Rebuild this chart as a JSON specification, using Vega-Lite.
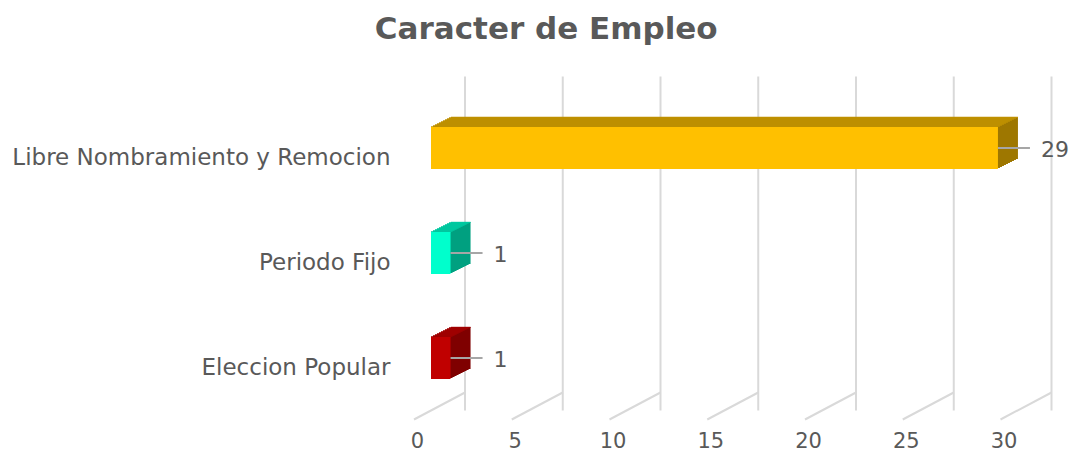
{
  "$schema": "https://vega.github.io/schema/vega-lite/v6.json",
  "autosize": {"type": "none"},
  "width": 586.5,
  "height": 315,
  "padding": {"left": 431, "top": 95.5, "right": 55.5, "bottom": 43.5},
  "background": "#ffffff",
  "title": {"text": "Caracter de Empleo", "font": "DejaVu Sans", "fontSize": 31, "fontWeight": "bold", "color": "#595959", "anchor": "middle", "frame": "group", "dx": -178, "offset": 30},
  "datasets": {
    "bars": [
      {"cat": "Libre Nombramiento y Remocion", "v": 29},
      {"cat": "Periodo Fijo", "v": 1},
      {"cat": "Eleccion Popular", "v": 1}
    ],
    "ticks": [{"t": 0}, {"t": 5}, {"t": 10}, {"t": 15}, {"t": 20}, {"t": 25}, {"t": 30}]
  },
  "data": {"name": "bars"},
  "config": {
    "view": {"stroke": null},
    "axis": {"grid": false, "domain": false, "ticks": false, "labelColor": "#595959", "labelFont": "DejaVu Sans"},
    "axisX": {"labelOffset": -14, "labelPadding": 20, "labelFontSize": 21, "labelFlush": false, "labelOverlap": false},
    "axisY": {"labelPadding": 41, "labelFontSize": 23, "labelLimit": 600, "labelOffset": 10}
  },
  "layer": [
    {"data": {"name": "ticks"}, "mark": {"type": "rule", "color": "#D9D9D9", "strokeWidth": 2, "xOffset": 34, "yOffset": -19, "y2Offset": -18},
     "encoding": {"x": {"field": "t", "type": "quantitative", "title": null, "scale": {"domain": [0, 30], "nice": false, "zero": true},
       "axis": {"values": [0, 5, 10, 15, 20, 25, 30], "title": null}}}},
    {"data": {"name": "ticks"}, "mark": {"type": "rule", "color": "#D9D9D9", "strokeWidth": 2, "xOffset": -17, "x2Offset": 34, "yOffset": 9, "y2Offset": -18},
     "encoding": {"x": {"field": "t", "type": "quantitative", "title": null}, "x2": {"field": "t"}, "y": {"value": "height"}, "y2": {"value": "height"}}},
    {"mark": {"type": "bar", "xOffset": 2, "x2Offset": 2, "yOffset": -1, "y2Offset": -1},
     "encoding": {"y": {"field": "cat", "type": "nominal", "sort": null, "title": null, "scale": {"type": "band", "paddingInner": 0.6, "paddingOuter": 0.3}, "axis": {"title": null}},
      "x": {"field": "v", "type": "quantitative", "title": null},
      "color": {"condition": [{"test": "datum.cat === 'Periodo Fijo'", "value": "#00A080"}, {"test": "datum.cat === 'Eleccion Popular'", "value": "#7F0000"}], "value": "#9E7700"}}},
    {"mark": {"type": "bar", "xOffset": 4, "x2Offset": 4, "yOffset": -2, "y2Offset": -2},
     "encoding": {"y": {"field": "cat", "type": "nominal", "sort": null, "title": null}, "x": {"field": "v", "type": "quantitative", "title": null},
      "color": {"condition": [{"test": "datum.cat === 'Periodo Fijo'", "value": "#00A080"}, {"test": "datum.cat === 'Eleccion Popular'", "value": "#7F0000"}], "value": "#9E7700"}}},
    {"mark": {"type": "bar", "xOffset": 6, "x2Offset": 6, "yOffset": -3, "y2Offset": -3},
     "encoding": {"y": {"field": "cat", "type": "nominal", "sort": null, "title": null}, "x": {"field": "v", "type": "quantitative", "title": null},
      "color": {"condition": [{"test": "datum.cat === 'Periodo Fijo'", "value": "#00A080"}, {"test": "datum.cat === 'Eleccion Popular'", "value": "#7F0000"}], "value": "#9E7700"}}},
    {"mark": {"type": "bar", "xOffset": 8, "x2Offset": 8, "yOffset": -4, "y2Offset": -4},
     "encoding": {"y": {"field": "cat", "type": "nominal", "sort": null, "title": null}, "x": {"field": "v", "type": "quantitative", "title": null},
      "color": {"condition": [{"test": "datum.cat === 'Periodo Fijo'", "value": "#00A080"}, {"test": "datum.cat === 'Eleccion Popular'", "value": "#7F0000"}], "value": "#9E7700"}}},
    {"mark": {"type": "bar", "xOffset": 10, "x2Offset": 10, "yOffset": -5, "y2Offset": -5},
     "encoding": {"y": {"field": "cat", "type": "nominal", "sort": null, "title": null}, "x": {"field": "v", "type": "quantitative", "title": null},
      "color": {"condition": [{"test": "datum.cat === 'Periodo Fijo'", "value": "#00A080"}, {"test": "datum.cat === 'Eleccion Popular'", "value": "#7F0000"}], "value": "#9E7700"}}},
    {"mark": {"type": "bar", "xOffset": 12, "x2Offset": 12, "yOffset": -6, "y2Offset": -6},
     "encoding": {"y": {"field": "cat", "type": "nominal", "sort": null, "title": null}, "x": {"field": "v", "type": "quantitative", "title": null},
      "color": {"condition": [{"test": "datum.cat === 'Periodo Fijo'", "value": "#00A080"}, {"test": "datum.cat === 'Eleccion Popular'", "value": "#7F0000"}], "value": "#9E7700"}}},
    {"mark": {"type": "bar", "xOffset": 14, "x2Offset": 14, "yOffset": -7, "y2Offset": -7},
     "encoding": {"y": {"field": "cat", "type": "nominal", "sort": null, "title": null}, "x": {"field": "v", "type": "quantitative", "title": null},
      "color": {"condition": [{"test": "datum.cat === 'Periodo Fijo'", "value": "#00A080"}, {"test": "datum.cat === 'Eleccion Popular'", "value": "#7F0000"}], "value": "#9E7700"}}},
    {"mark": {"type": "bar", "xOffset": 16, "x2Offset": 16, "yOffset": -8, "y2Offset": -8},
     "encoding": {"y": {"field": "cat", "type": "nominal", "sort": null, "title": null}, "x": {"field": "v", "type": "quantitative", "title": null},
      "color": {"condition": [{"test": "datum.cat === 'Periodo Fijo'", "value": "#00A080"}, {"test": "datum.cat === 'Eleccion Popular'", "value": "#7F0000"}], "value": "#9E7700"}}},
    {"mark": {"type": "bar", "xOffset": 18, "x2Offset": 18, "yOffset": -9, "y2Offset": -9},
     "encoding": {"y": {"field": "cat", "type": "nominal", "sort": null, "title": null}, "x": {"field": "v", "type": "quantitative", "title": null},
      "color": {"condition": [{"test": "datum.cat === 'Periodo Fijo'", "value": "#00A080"}, {"test": "datum.cat === 'Eleccion Popular'", "value": "#7F0000"}], "value": "#9E7700"}}},
    {"mark": {"type": "bar", "xOffset": 20, "x2Offset": 20, "yOffset": -10, "y2Offset": -10},
     "encoding": {"y": {"field": "cat", "type": "nominal", "sort": null, "title": null}, "x": {"field": "v", "type": "quantitative", "title": null},
      "color": {"condition": [{"test": "datum.cat === 'Periodo Fijo'", "value": "#00A080"}, {"test": "datum.cat === 'Eleccion Popular'", "value": "#7F0000"}], "value": "#9E7700"}}},
    {"mark": {"type": "rule", "strokeWidth": 1.6, "xOffset": 0, "x2Offset": 0, "yOffset": 0},
     "encoding": {"y": {"field": "cat", "type": "nominal", "sort": null, "bandPosition": 0, "title": null}, "x": {"field": "v", "type": "quantitative", "title": null}, "x2": {"datum": 0},
      "color": {"condition": [{"test": "datum.cat === 'Periodo Fijo'", "value": "#00C9A0"}, {"test": "datum.cat === 'Eleccion Popular'", "value": "#A00000"}], "value": "#BF9000"}}},
    {"mark": {"type": "rule", "strokeWidth": 1.6, "xOffset": 2, "x2Offset": 2, "yOffset": -1},
     "encoding": {"y": {"field": "cat", "type": "nominal", "sort": null, "bandPosition": 0, "title": null}, "x": {"field": "v", "type": "quantitative", "title": null}, "x2": {"datum": 0},
      "color": {"condition": [{"test": "datum.cat === 'Periodo Fijo'", "value": "#00C9A0"}, {"test": "datum.cat === 'Eleccion Popular'", "value": "#A00000"}], "value": "#BF9000"}}},
    {"mark": {"type": "rule", "strokeWidth": 1.6, "xOffset": 4, "x2Offset": 4, "yOffset": -2},
     "encoding": {"y": {"field": "cat", "type": "nominal", "sort": null, "bandPosition": 0, "title": null}, "x": {"field": "v", "type": "quantitative", "title": null}, "x2": {"datum": 0},
      "color": {"condition": [{"test": "datum.cat === 'Periodo Fijo'", "value": "#00C9A0"}, {"test": "datum.cat === 'Eleccion Popular'", "value": "#A00000"}], "value": "#BF9000"}}},
    {"mark": {"type": "rule", "strokeWidth": 1.6, "xOffset": 6, "x2Offset": 6, "yOffset": -3},
     "encoding": {"y": {"field": "cat", "type": "nominal", "sort": null, "bandPosition": 0, "title": null}, "x": {"field": "v", "type": "quantitative", "title": null}, "x2": {"datum": 0},
      "color": {"condition": [{"test": "datum.cat === 'Periodo Fijo'", "value": "#00C9A0"}, {"test": "datum.cat === 'Eleccion Popular'", "value": "#A00000"}], "value": "#BF9000"}}},
    {"mark": {"type": "rule", "strokeWidth": 1.6, "xOffset": 8, "x2Offset": 8, "yOffset": -4},
     "encoding": {"y": {"field": "cat", "type": "nominal", "sort": null, "bandPosition": 0, "title": null}, "x": {"field": "v", "type": "quantitative", "title": null}, "x2": {"datum": 0},
      "color": {"condition": [{"test": "datum.cat === 'Periodo Fijo'", "value": "#00C9A0"}, {"test": "datum.cat === 'Eleccion Popular'", "value": "#A00000"}], "value": "#BF9000"}}},
    {"mark": {"type": "rule", "strokeWidth": 1.6, "xOffset": 10, "x2Offset": 10, "yOffset": -5},
     "encoding": {"y": {"field": "cat", "type": "nominal", "sort": null, "bandPosition": 0, "title": null}, "x": {"field": "v", "type": "quantitative", "title": null}, "x2": {"datum": 0},
      "color": {"condition": [{"test": "datum.cat === 'Periodo Fijo'", "value": "#00C9A0"}, {"test": "datum.cat === 'Eleccion Popular'", "value": "#A00000"}], "value": "#BF9000"}}},
    {"mark": {"type": "rule", "strokeWidth": 1.6, "xOffset": 12, "x2Offset": 12, "yOffset": -6},
     "encoding": {"y": {"field": "cat", "type": "nominal", "sort": null, "bandPosition": 0, "title": null}, "x": {"field": "v", "type": "quantitative", "title": null}, "x2": {"datum": 0},
      "color": {"condition": [{"test": "datum.cat === 'Periodo Fijo'", "value": "#00C9A0"}, {"test": "datum.cat === 'Eleccion Popular'", "value": "#A00000"}], "value": "#BF9000"}}},
    {"mark": {"type": "rule", "strokeWidth": 1.6, "xOffset": 14, "x2Offset": 14, "yOffset": -7},
     "encoding": {"y": {"field": "cat", "type": "nominal", "sort": null, "bandPosition": 0, "title": null}, "x": {"field": "v", "type": "quantitative", "title": null}, "x2": {"datum": 0},
      "color": {"condition": [{"test": "datum.cat === 'Periodo Fijo'", "value": "#00C9A0"}, {"test": "datum.cat === 'Eleccion Popular'", "value": "#A00000"}], "value": "#BF9000"}}},
    {"mark": {"type": "rule", "strokeWidth": 1.6, "xOffset": 16, "x2Offset": 16, "yOffset": -8},
     "encoding": {"y": {"field": "cat", "type": "nominal", "sort": null, "bandPosition": 0, "title": null}, "x": {"field": "v", "type": "quantitative", "title": null}, "x2": {"datum": 0},
      "color": {"condition": [{"test": "datum.cat === 'Periodo Fijo'", "value": "#00C9A0"}, {"test": "datum.cat === 'Eleccion Popular'", "value": "#A00000"}], "value": "#BF9000"}}},
    {"mark": {"type": "rule", "strokeWidth": 1.6, "xOffset": 18, "x2Offset": 18, "yOffset": -9},
     "encoding": {"y": {"field": "cat", "type": "nominal", "sort": null, "bandPosition": 0, "title": null}, "x": {"field": "v", "type": "quantitative", "title": null}, "x2": {"datum": 0},
      "color": {"condition": [{"test": "datum.cat === 'Periodo Fijo'", "value": "#00C9A0"}, {"test": "datum.cat === 'Eleccion Popular'", "value": "#A00000"}], "value": "#BF9000"}}},
    {"mark": {"type": "rule", "strokeWidth": 1.2, "xOffset": 20, "x2Offset": 20, "yOffset": -9.6},
     "encoding": {"y": {"field": "cat", "type": "nominal", "sort": null, "bandPosition": 0, "title": null}, "x": {"field": "v", "type": "quantitative", "title": null}, "x2": {"datum": 0},
      "color": {"condition": [{"test": "datum.cat === 'Periodo Fijo'", "value": "#00C9A0"}, {"test": "datum.cat === 'Eleccion Popular'", "value": "#A00000"}], "value": "#BF9000"}}},
    {"mark": {"type": "bar"},
     "encoding": {"y": {"field": "cat", "type": "nominal", "sort": null, "title": null}, "x": {"field": "v", "type": "quantitative", "title": null},
      "color": {"condition": [{"test": "datum.cat === 'Periodo Fijo'", "value": "#00FFCC"}, {"test": "datum.cat === 'Eleccion Popular'", "value": "#C00000"}], "value": "#FFC000"}}},
    {"mark": {"type": "rule", "color": "#A6A6A6", "strokeWidth": 2, "x2Offset": 32},
     "encoding": {"y": {"field": "cat", "type": "nominal", "sort": null, "title": null}, "x": {"field": "v", "type": "quantitative", "title": null}, "x2": {"field": "v"}}},
    {"mark": {"type": "text", "align": "left", "baseline": "middle", "dx": 43, "dy": 2, "fontSize": 22, "font": "DejaVu Sans", "color": "#595959"},
     "encoding": {"y": {"field": "cat", "type": "nominal", "sort": null, "title": null}, "x": {"field": "v", "type": "quantitative", "title": null}, "text": {"field": "v", "type": "quantitative"}}}
  ]
}
